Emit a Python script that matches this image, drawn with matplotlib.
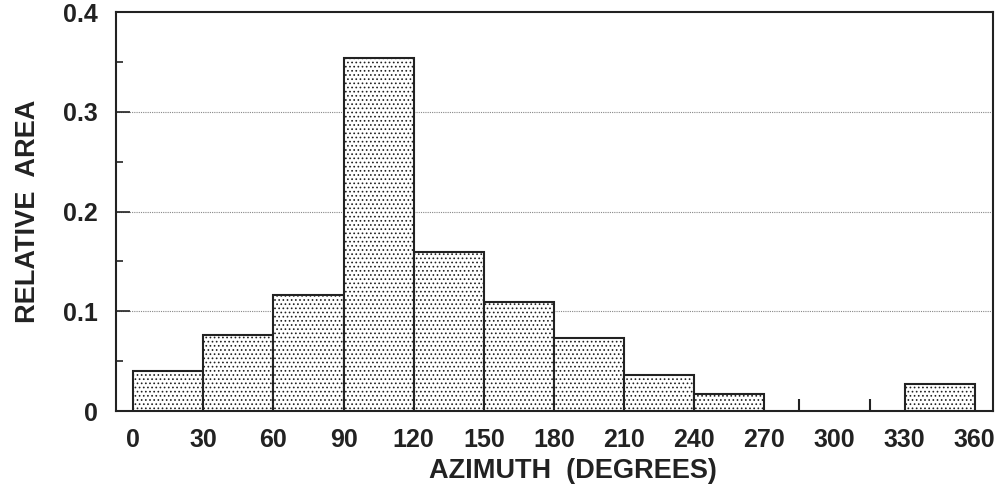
import numpy as np
import matplotlib
matplotlib.use("Agg")
import matplotlib.pyplot as plt

plt.rcParams['font.family'] = ['Liberation Sans', 'DejaVu Sans']
plt.rcParams['font.weight'] = 'bold'
plt.rcParams['hatch.color'] = '#555555'
plt.rcParams['hatch.linewidth'] = 0.7

bin_edges = [0, 30, 60, 90, 120, 150, 180, 210, 240, 270, 300, 330, 360]
rel_area = [0.040, 0.076, 0.116, 0.354, 0.159, 0.109, 0.073, 0.036, 0.017, 0.0, 0.0, 0.027]
y_ticks = [0, 0.1, 0.2, 0.3, 0.4]
y_labels = ["0", "0.1", "0.2", "0.3", "0.4"]

fig = plt.figure(figsize=(10.02, 4.92), dpi=100)
ax = fig.add_axes([0.1158, 0.1646, 0.875, 0.811])

left = np.array(bin_edges[:-1])
widths = np.diff(bin_edges)
for x0, w, h in zip(left, widths, rel_area):
    if h > 0:
        ax.bar(x0, h, width=w, align='edge', facecolor='white', edgecolor='#222222',
               linewidth=1.5, hatch='....', zorder=3)

for g in [0.1, 0.2, 0.3]:
    ax.axhline(g, color='#888888', linestyle=(0, (1, 1)), linewidth=0.8, zorder=1)

ax.set_xlim(-7.3, 367.7)
ax.set_ylim(0, 0.4)
ax.set_xticks(bin_edges)
ax.set_xticks([285, 315], minor=True)
ax.set_yticks(y_ticks)
ax.set_yticklabels(y_labels)
ax.set_yticks([0.05, 0.15, 0.25, 0.35], minor=True)
ax.tick_params(axis='x', which='major', length=0, pad=12, labelsize=18, colors='#222222')
ax.tick_params(axis='x', which='minor', direction='in', length=9, width=1.5, color='#222222')
ax.tick_params(axis='y', which='major', direction='in', length=10, width=1.2, pad=13,
               labelsize=18, colors='#222222')
ax.tick_params(axis='y', which='minor', direction='in', length=5, width=1.2, color='#222222')
for lab in ax.get_xticklabels() + ax.get_yticklabels():
    lab.set_fontweight('bold')

for s in ax.spines.values():
    s.set_linewidth(1.5)
    s.set_color('#222222')

ax.set_xlabel("AZIMUTH  (DEGREES)", fontsize=19.5, fontweight='bold', color='#222222')
ax.xaxis.set_label_coords(0.521, -0.118)
ax.set_ylabel("RELATIVE  AREA", fontsize=19.5, fontweight='bold', color='#222222', labelpad=16)

fig.savefig("out.png", dpi=100)
